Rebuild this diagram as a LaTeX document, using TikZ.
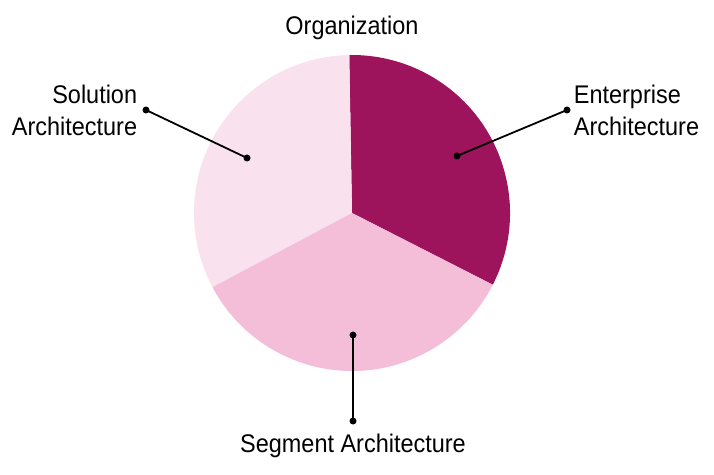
\documentclass[tikz,border=0pt]{standalone}
\usepackage{fontspec}
\setmainfont[FakeStretch=0.92]{Liberation Sans}
\usepackage{tikz}
\usetikzlibrary{positioning, calc}
\definecolor{orgdark}  {RGB}{158,  20,  92}
\definecolor{orgmid}   {RGB}{244, 190, 217}
\definecolor{orglight} {RGB}{249, 225, 238}

\begin{document}
\begin{tikzpicture}[x=1pt,y=1pt,
		pin dot/.style={circle,fill=black,inner sep=0pt,minimum size=7pt},
		pin line/.style={line width=1.8pt},
		label text/.style={font=\fontsize{25.5}{32}\selectfont,inner sep=0pt}]
	\useasboundingbox (0,0) rectangle (714,474);
	\coordinate (ctr) at (352,261);
	% slices
	\fill[orgdark]  (ctr) -- ++(-27:158) arc[start angle=-27, end angle=91,  radius=158] -- cycle;
	\fill[orglight] (ctr) -- ++(91:158)  arc[start angle=91,  end angle=208, radius=158] -- cycle;
	\fill[orgmid]   (ctr) -- ++(208:158) arc[start angle=208, end angle=333, radius=158] -- cycle;
	% pins
	\node[pin dot] (solin)  at (247,316) {};
	\node[pin dot] (solout) at (146,364) {};
	\node[pin dot] (entin)  at (457,318) {};
	\node[pin dot] (entout) at (567,364) {};
	\node[pin dot] (segin)  at (353,139) {};
	\node[pin dot] (segout) at (353,53)  {};
	\draw[pin line] (solin.center) -- (solout.center);
	\draw[pin line] (entin.center) -- (entout.center);
	\draw[pin line] (segin.center) -- (segout.center);
	% labels
	\node[label text] (org) at (352,446) {Organization};
	\node[label text,align=right,left=5pt of solout] (sol) {Solution\\Architecture};
	\node[label text,align=left,right=3pt of entout] (ent) {Enterprise\\Architecture};
	\node[label text,below=9pt of segout] (seg) {Segment Architecture};
\end{tikzpicture}
\end{document}
